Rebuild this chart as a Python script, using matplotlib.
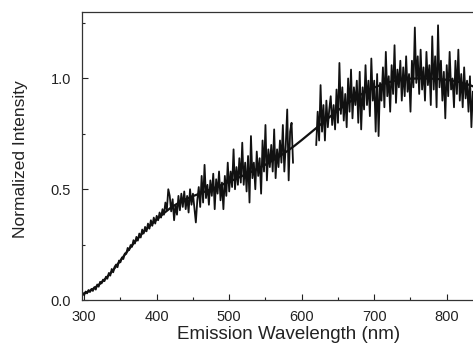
import numpy as np
import matplotlib.pyplot as plt
from matplotlib.ticker import MultipleLocator, FormatStrFormatter

plt.rcParams['font.family'] = ['Liberation Sans', 'DejaVu Sans']

# measured spectrum, first part (298-588 nm, 2 nm steps)
wl_a = np.arange(298, 590, 2)
spec_a = [
    0.030, 0.022, 0.038, 0.030, 0.045, 0.036, 0.050, 0.041, 0.058, 0.047,
    0.070, 0.060, 0.082, 0.075, 0.092, 0.085, 0.105, 0.096, 0.122, 0.110,
    0.140, 0.125, 0.150, 0.160, 0.148, 0.178, 0.170, 0.192, 0.185, 0.210,
    0.208, 0.235, 0.225, 0.248, 0.240, 0.270, 0.255, 0.285, 0.268, 0.300,
    0.282, 0.318, 0.300, 0.330, 0.310, 0.345, 0.322, 0.360, 0.335, 0.372,
    0.345, 0.380, 0.360, 0.395, 0.372, 0.410, 0.385, 0.440, 0.405, 0.500,
    0.470, 0.400, 0.455, 0.360, 0.430, 0.385, 0.470, 0.405, 0.480, 0.420,
    0.490, 0.410, 0.470, 0.395, 0.500, 0.430, 0.480, 0.415, 0.350, 0.450,
    0.510, 0.420, 0.560, 0.440, 0.610, 0.460, 0.520, 0.430, 0.540, 0.470,
    0.570, 0.410, 0.545, 0.480, 0.580, 0.450, 0.530, 0.410, 0.560, 0.470,
    0.620, 0.490, 0.580, 0.510, 0.680, 0.500, 0.600, 0.520, 0.640, 0.530,
    0.710, 0.520, 0.620, 0.490, 0.650, 0.440, 0.740, 0.550, 0.620, 0.500,
    0.670, 0.560, 0.640, 0.480, 0.720, 0.580, 0.790, 0.540, 0.680, 0.600,
    0.700, 0.580, 0.770, 0.550, 0.680, 0.600, 0.720, 0.620, 0.790, 0.580,
    0.700, 0.860, 0.540, 0.760, 0.800, 0.620,
]

# measured spectrum, second part (620-836 nm)
wl_b = np.arange(620, 838, 2)
spec_b = [
    0.700, 0.850, 0.720, 0.970, 0.760, 0.880, 0.720, 0.900, 0.780, 0.860,
    0.920, 0.790, 0.880, 0.770, 0.950, 0.800, 1.070, 0.840, 0.960, 0.810,
    0.930, 0.780, 1.000, 0.850, 1.040, 0.820, 0.960, 0.880, 0.990, 0.800,
    1.030, 0.770, 0.960, 0.860, 1.060, 0.880, 0.990, 0.830, 1.090, 0.900,
    0.990, 0.760, 1.020, 0.740, 0.980, 0.900, 1.050, 0.870, 1.120, 0.920,
    1.010, 0.850, 1.060, 0.930, 1.150, 0.890, 1.040, 0.960, 1.080, 0.900,
    1.050, 0.920, 1.100, 0.940, 1.020, 0.850, 1.080, 0.960, 1.230, 0.980,
    1.100, 0.930, 1.130, 0.950, 1.050, 0.900, 1.120, 0.970, 1.060, 0.880,
    1.190, 0.950, 1.100, 0.870, 1.240, 0.960, 1.080, 0.900, 1.030, 0.820,
    1.060, 0.920, 1.120, 0.950, 1.000, 0.870, 1.080, 0.930, 1.130, 0.900,
    1.020, 0.870, 1.050, 0.910, 0.990, 0.850, 1.010, 0.780, 0.940,
]

# fitted smooth curve
wl_fit = [297, 300, 310, 320, 330, 340, 350, 360, 370, 380, 390, 400, 410,
          420, 430, 440, 450, 460, 470, 480, 490, 500, 510, 520, 530, 540,
          550, 560, 570, 580, 590, 600, 610, 620, 630, 640, 650, 660, 670,
          680, 690, 700, 710, 720, 730, 740, 750, 760, 770, 780, 790, 800,
          810, 820, 830, 840, 850]
fit = [0.025, 0.030, 0.045, 0.068, 0.098, 0.135, 0.178, 0.222, 0.263, 0.300,
       0.333, 0.363, 0.392, 0.418, 0.438, 0.455, 0.469, 0.481, 0.494, 0.507,
       0.520, 0.534, 0.548, 0.563, 0.578, 0.594, 0.611, 0.630, 0.650, 0.672,
       0.696, 0.722, 0.749, 0.776, 0.803, 0.830, 0.856, 0.880, 0.903, 0.924,
       0.943, 0.959, 0.972, 0.983, 0.991, 0.996, 0.999, 1.000, 1.000, 0.999,
       0.997, 0.994, 0.989, 0.982, 0.972, 0.960, 0.945]

fig = plt.figure(figsize=(4.73, 3.44), dpi=100)
ax = fig.add_axes([82 / 473, 44 / 344, 401 / 473, 288 / 344])

ax.plot(wl_a, spec_a, color='#111111', lw=1.3)
ax.plot(wl_b, spec_b, color='#111111', lw=1.3)
ax.plot(wl_fit, fit, color='#111111', lw=1.6)

ax.set_xlim(297, 850)
ax.set_ylim(0, 1.30)
ax.xaxis.set_major_locator(MultipleLocator(100))
ax.xaxis.set_minor_locator(MultipleLocator(50))
ax.yaxis.set_major_locator(MultipleLocator(0.5))
ax.yaxis.set_minor_locator(MultipleLocator(0.25))
ax.yaxis.set_major_formatter(FormatStrFormatter('%.1f'))
ax.tick_params(which='both', direction='in', labelsize=10.5, colors='#222222')
ax.tick_params(which='major', length=4.5, width=0.8)
ax.tick_params(which='minor', length=2.5, width=0.8)
ax.tick_params(axis='x', pad=7)
ax.tick_params(axis='y', pad=8)
for s in ax.spines.values():
    s.set_color('#333333')
    s.set_linewidth(0.9)

ax.set_xlabel('Emission Wavelength (nm)', fontsize=13.5, color='#222222')
ax.set_ylabel('Normalized Intensity', fontsize=12.5, color='#222222')
ax.xaxis.set_label_coords(0.515, -0.09)
ax.yaxis.set_label_coords(-0.135, 0.49)

fig.canvas.draw()
lbl = ax.get_xticklabels()[0]
lbl.set_horizontalalignment('left')

fig.savefig('out.png', dpi=100)
